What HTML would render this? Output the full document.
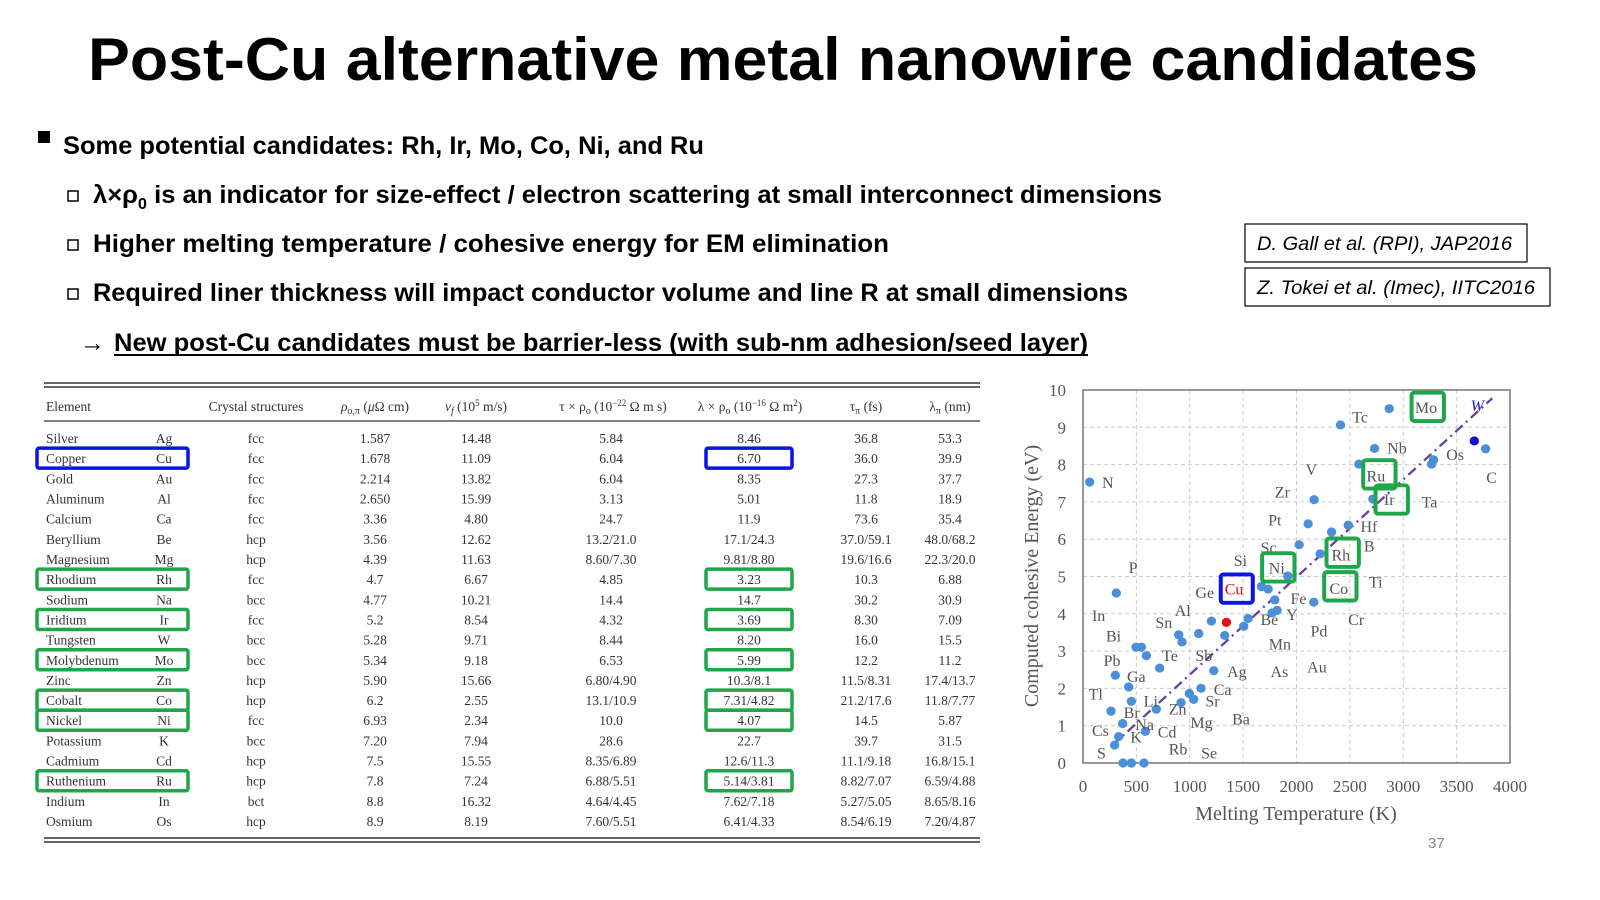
<!DOCTYPE html>
<html><head><meta charset="utf-8"><style>
html,body{margin:0;padding:0;background:#fff;width:1600px;height:900px;overflow:hidden}
svg{display:block}
.b{font-family:"Liberation Sans",sans-serif;font-weight:bold;fill:#000}
.t{font-family:"Liberation Serif",serif;font-size:13.5px;fill:#333}
.h{font-family:"Liberation Serif",serif;font-size:13.5px;fill:#333}
.c{font-family:"Liberation Serif",serif;fill:#555;font-size:48px}
</style></head><body>
<svg id="s" width="1600" height="900" xmlns="http://www.w3.org/2000/svg">
<text class="b" x="88" y="80" font-size="60" textLength="1390" lengthAdjust="spacingAndGlyphs">Post-Cu alternative metal nanowire candidates</text>
<rect x="38" y="131" width="12" height="12" fill="#000"/>
<text class="b" x="63" y="154" font-size="25" textLength="641" lengthAdjust="spacingAndGlyphs">Some potential candidates: Rh, Ir, Mo, Co, Ni, and Ru</text>
<g fill="none" stroke="#000" stroke-width="1.5">
<rect x="68" y="191" width="10" height="10"/><rect x="68" y="240" width="10" height="10"/><rect x="68" y="289" width="10" height="10"/></g>
<text class="b" x="93" y="203" font-size="25" textLength="1069" lengthAdjust="spacingAndGlyphs">λ×ρ<tspan font-size="16" dy="6">0</tspan><tspan dy="-6"> is an indicator for size-effect / electron scattering at small interconnect dimensions</tspan></text>
<text class="b" x="93" y="252" font-size="25" textLength="796" lengthAdjust="spacingAndGlyphs">Higher melting temperature / cohesive energy for EM elimination</text>
<text class="b" x="93" y="301" font-size="25" textLength="1035" lengthAdjust="spacingAndGlyphs">Required liner thickness will impact conductor volume and line R at small dimensions</text>
<text class="b" x="80" y="351" font-size="25">→</text>
<text class="b" x="114" y="351" font-size="25" textLength="974" lengthAdjust="spacingAndGlyphs">New post-Cu candidates must be barrier-less (with sub-nm adhesion/seed layer)</text>
<line x1="114" y1="355" x2="1088" y2="355" stroke="#000" stroke-width="2"/>
<rect x="1245" y="224" width="282" height="38" fill="none" stroke="#000" stroke-width="1.2"/>
<rect x="1245" y="268" width="305" height="38" fill="none" stroke="#000" stroke-width="1.2"/>
<text x="1257" y="250" font-family="Liberation Sans,sans-serif" font-style="italic" font-size="19" textLength="255" lengthAdjust="spacingAndGlyphs">D. Gall et al. (RPI),  JAP2016</text>
<text x="1257" y="294" font-family="Liberation Sans,sans-serif" font-style="italic" font-size="19" textLength="278" lengthAdjust="spacingAndGlyphs">Z. Tokei et al. (Imec),  IITC2016</text>
<text x="1428" y="848" font-family="Liberation Sans,sans-serif" font-size="15" fill="#888">37</text>
<!-- table -->
<g stroke="#333">
<line x1="44" y1="383" x2="980" y2="383" stroke-width="1.5"/><line x1="44" y1="387" x2="980" y2="387" stroke-width="1.5"/>
<line x1="44" y1="421" x2="980" y2="421" stroke-width="1.2"/>
<line x1="44" y1="838" x2="980" y2="838" stroke-width="1.5"/><line x1="44" y1="842" x2="980" y2="842" stroke-width="1.5"/>
</g>
<g class="h" text-anchor="middle">
<text x="46" y="411" text-anchor="start">Element</text>
<text x="256" y="411">Crystal structures</text>
<text x="375" y="411"><tspan font-style="italic">ρ</tspan><tspan font-size="10" dy="3">o,π</tspan><tspan dy="-3"> (</tspan><tspan font-style="italic">μ</tspan>Ω cm)</text>
<text x="476" y="411"><tspan font-style="italic">v</tspan><tspan font-size="10" dy="3" font-style="italic">f</tspan><tspan dy="-3"> (10</tspan><tspan font-size="9" dy="-5">5</tspan><tspan dy="5"> m/s)</tspan></text>
<text x="613" y="411">τ × ρ<tspan font-size="10" dy="3">o</tspan><tspan dy="-3"> (10</tspan><tspan font-size="9" dy="-5">−22</tspan><tspan dy="5"> Ω m s)</tspan></text>
<text x="750" y="411">λ × ρ<tspan font-size="10" dy="3">o</tspan><tspan dy="-3"> (10</tspan><tspan font-size="9" dy="-5">−16</tspan><tspan dy="5"> Ω m</tspan><tspan font-size="9" dy="-5">2</tspan><tspan dy="5">)</tspan></text>
<text x="866" y="411">τ<tspan font-size="10" dy="3">π</tspan><tspan dy="-3"> (fs)</tspan></text>
<text x="950" y="411">λ<tspan font-size="10" dy="3">π</tspan><tspan dy="-3"> (nm)</tspan></text>
</g>
<g id="tb" class="t"></g>
<!-- chart -->
<g id="ax"></g>
<g id="ch" transform="translate(991.9,367.2) scale(0.3336,0.3263)"></g>
</svg>
<script>
var NS="http://www.w3.org/2000/svg";
function el(p,n,a,t){var e=document.createElementNS(NS,n);for(var k in a)e.setAttribute(k,a[k]);if(t!=null)e.textContent=t;p.appendChild(e);return e;}
var rows=[["Silver","Ag","fcc","1.587","14.48","5.84","8.46","36.8","53.3"],
["Copper","Cu","fcc","1.678","11.09","6.04","6.70","36.0","39.9"],
["Gold","Au","fcc","2.214","13.82","6.04","8.35","27.3","37.7"],
["Aluminum","Al","fcc","2.650","15.99","3.13","5.01","11.8","18.9"],
["Calcium","Ca","fcc","3.36","4.80","24.7","11.9","73.6","35.4"],
["Beryllium","Be","hcp","3.56","12.62","13.2/21.0","17.1/24.3","37.0/59.1","48.0/68.2"],
["Magnesium","Mg","hcp","4.39","11.63","8.60/7.30","9.81/8.80","19.6/16.6","22.3/20.0"],
["Rhodium","Rh","fcc","4.7","6.67","4.85","3.23","10.3","6.88"],
["Sodium","Na","bcc","4.77","10.21","14.4","14.7","30.2","30.9"],
["Iridium","Ir","fcc","5.2","8.54","4.32","3.69","8.30","7.09"],
["Tungsten","W","bcc","5.28","9.71","8.44","8.20","16.0","15.5"],
["Molybdenum","Mo","bcc","5.34","9.18","6.53","5.99","12.2","11.2"],
["Zinc","Zn","hcp","5.90","15.66","6.80/4.90","10.3/8.1","11.5/8.31","17.4/13.7"],
["Cobalt","Co","hcp","6.2","2.55","13.1/10.9","7.31/4.82","21.2/17.6","11.8/7.77"],
["Nickel","Ni","fcc","6.93","2.34","10.0","4.07","14.5","5.87"],
["Potassium","K","bcc","7.20","7.94","28.6","22.7","39.7","31.5"],
["Cadmium","Cd","hcp","7.5","15.55","8.35/6.89","12.6/11.3","11.1/9.18","16.8/15.1"],
["Ruthenium","Ru","hcp","7.8","7.24","6.88/5.51","5.14/3.81","8.82/7.07","6.59/4.88"],
["Indium","In","bct","8.8","16.32","4.64/4.45","7.62/7.18","5.27/5.05","8.65/8.16"],
["Osmium","Os","hcp","8.9","8.19","7.60/5.51","6.41/4.33","8.54/6.19","7.20/4.87"]];
var tb=document.getElementById("tb"),xs=[46,164,256,375,476,611,749,866,950];
var G="#1fa64a",B="#0a14e6";
rows.forEach(function(r,i){var y=443+i*20.16;
 r.forEach(function(v,j){el(tb,"text",{x:xs[j],y:y,"text-anchor":j==0?"start":"middle"},v);});
 var col=null;if(["Rh","Ir","Mo","Co","Ni","Ru"].indexOf(r[1])>=0)col=G;if(r[1]=="Cu")col=B;
 if(col){el(tb,"rect",{x:37,y:y-15,width:151,height:20,rx:2,fill:"none",stroke:col,"stroke-width":3.5});
 if(r[1]!="W")el(tb,"rect",{x:706,y:y-15,width:86,height:20,rx:2,fill:"none",stroke:col,"stroke-width":3.5});}
});
var ax=document.getElementById("ax");
var L=1083,R=1510,T=390,Bm=763;
for(var k=0;k<=8;k++){var x=L+k*(R-L)/8;
 if(k>0&&k<8)el(ax,"line",{x1:x,y1:T,x2:x,y2:Bm,stroke:"#ccc","stroke-dasharray":"4,3"});
 el(ax,"text",{x:x,y:792,"text-anchor":"middle","font-family":"Liberation Serif,serif","font-size":"17",fill:"#555"},k*500);}
for(var k=0;k<=10;k++){var y=Bm-k*(Bm-T)/10;
 if(k>0&&k<10)el(ax,"line",{x1:L,y1:y,x2:R,y2:y,stroke:"#ccc","stroke-dasharray":"4,3"});
 el(ax,"text",{x:1066,y:y+6,"text-anchor":"end","font-family":"Liberation Serif,serif","font-size":"17",fill:"#555"},k);}
el(ax,"rect",{x:L,y:T,width:R-L,height:Bm-T,fill:"none",stroke:"#555","stroke-width":1.2});
el(ax,"text",{x:1296,y:820,"text-anchor":"middle","font-family":"Liberation Serif,serif","font-size":"20",fill:"#555"},"Melting Temperature (K)");
el(ax,"text",{x:0,y:0,transform:"translate(1038,576) rotate(-90)","text-anchor":"middle","font-family":"Liberation Serif,serif","font-size":"20",fill:"#555"},"Computed cohesive Energy (eV)");
var ch=document.getElementById("ch");
el(ch,"line",{x1:360,y1:1160,x2:1500,y2:95,stroke:"#6a3fa0","stroke-width":7,"stroke-dasharray":"30,14,6,14"});
var pts=[[293,352],[373,692],[410,980],[432,858],[448,858],[370,944],[463,884],[357,1054],[418,1024],[392,1092],[380,1132],[368,1158],[393,1213],[418,1213],[456,1213],[493,1048],[460,1116],[503,922],[560,820],[570,842],[567,1028],[592,1000],[605,1018],[627,984],[620,816],[665,930],[658,778],[698,822],[755,794],[768,770],[840,753],[855,745],[848,713],[808,672],[828,680],[887,640],[965,720],[921,544],[948,480],[966,406],[984,572],[1018,505],[1068,484],[1142,404],[1100,297],[1147,249],[1318,297],[1324,284],[1045,177],[1191,127],[1480,250]];
pts.forEach(function(p){el(ch,"circle",{cx:p[0],cy:p[1],r:14,fill:"#4a8fd8"});});
el(ch,"circle",{cx:703,cy:782,r:14,fill:"#e01010"});
el(ch,"circle",{cx:1446,cy:226,r:14,fill:"#1010d0"});
var lab=[["N",330,370],["P",410,630],["In",300,778],["Bi",342,840],["Pb",335,915],["Ga",405,965],["Tl",290,1018],["Cs",300,1130],["S",315,1200],["Br",395,1075],["Na",430,1112],["K",415,1150],["Rb",530,1187],["Se",627,1200],["Cd",497,1135],["Li",455,1040],["Zn",530,1065],["Mg",595,1105],["Ba",720,1095],["Sr",640,1040],["Ca",665,1005],["Sn",490,800],["Al",548,762],["Te",510,900],["Sb",610,900],["Ag",705,950],["As",835,950],["Au",945,935],["Mn",830,865],["Be",805,790],["Y",882,775],["Pd",955,825],["Cr",1068,790],["Fe",895,725],["Ti",1130,675],["Ge",610,708],["Si",725,610],["Sc",805,570],["Pt",828,485],["Zr",848,400],["V",940,330],["Hf",1105,505],["B",1115,565],["Ta",1288,430],["Os",1362,285],["C",1482,355],["Nb",1185,265],["Tc",1080,170],["Mo",1268,140],["Ru",1123,350],["Ir",1175,422],["Rh",1018,592],["Ni",830,632],["Co",1012,695]];
lab.forEach(function(l){el(ch,"text",{x:l[1],y:l[2],"class":"c"},l[0]);});
el(ch,"text",{x:1435,y:135,"class":"c",style:"fill:#2020d0;font-style:italic"},"W");
el(ch,"text",{x:698,y:697,"class":"c",style:"fill:#e01010"},"Cu");
[[1258,78],[1113,285],[1150,362],[1003,525],[810,570],[996,628]].forEach(function(b){el(ch,"rect",{x:b[0],y:b[1],width:97,height:87,rx:8,fill:"none",stroke:G,"stroke-width":12});});
el(ch,"rect",{x:686,y:635,width:96,height:87,rx:8,fill:"none",stroke:B,"stroke-width":12});
</script>
</body></html>
